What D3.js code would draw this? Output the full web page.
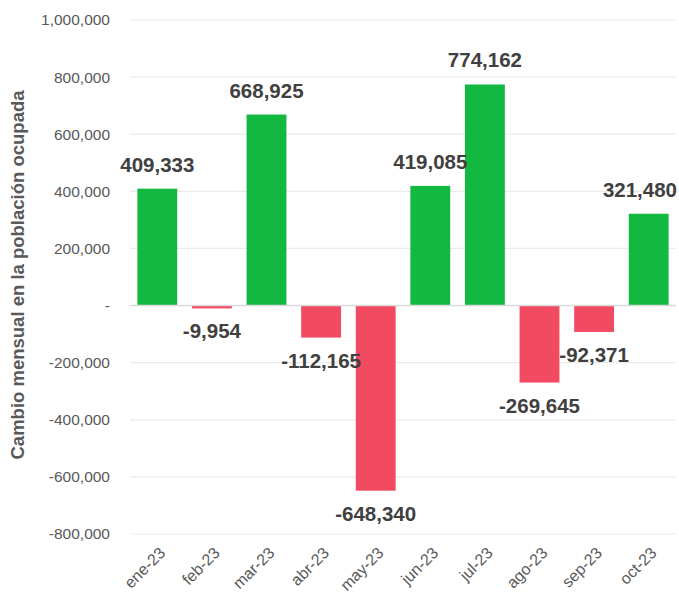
<!DOCTYPE html>
<html>
<head>
<meta charset="utf-8">
<script src="https://cdn.jsdelivr.net/npm/d3@7"></script>
<style>
  body { margin: 0; background: #fff; }
  svg { font-family: "Liberation Sans", Arial, sans-serif; }
</style>
</head>
<body>
<svg id="chart" width="679" height="598"></svg>
<script>
// data
const months = ["ene-23", "feb-23", "mar-23", "abr-23", "may-23",
                "jun-23", "jul-23", "ago-23", "sep-23", "oct-23"];
const changes = [409333, -9954, 668925, -112165, -648340,
                 419085, 774162, -269645, -92371, 321480];
const yTicks = [-800000, -600000, -400000, -200000, 0,
                200000, 400000, 600000, 800000, 1000000];

const svg = d3.select("#chart");
const margin = {top: 20, right: 3, bottom: 64, left: 130};
const width = 679 - margin.left - margin.right;
const height = 534 - margin.top;

const g = svg.append("g")
    .attr("transform", "translate(" + margin.left + "," + margin.top + ")");

const x = d3.scaleBand()
    .domain(months)
    .range([0, width])
    .paddingInner(0.27)
    .paddingOuter(0.135);

const y = d3.scaleLinear()
    .domain([-800000, 1000000])
    .range([height, 0]);

// plain hyphen for negatives, like the original
const fmt = function(d) { return d3.format(",")(d).replace("\u2212", "-"); };

// gridlines
g.selectAll("line.grid")
    .data(yTicks.filter(function(d) { return d !== 0; }))
    .enter()
    .append("line")
    .attr("class", "grid")
    .attr("x1", 0)
    .attr("x2", width)
    .attr("y1", function(d) { return y(d); })
    .attr("y2", function(d) { return y(d); })
    .attr("stroke", "#ebebeb")
    .attr("stroke-width", 1.2);

// y axis labels
const yAxis = g.append("g")
    .call(d3.axisLeft(y)
        .tickValues(yTicks)
        .tickSize(0)
        .tickPadding(20)
        .tickFormat(function(d) { return d === 0 ? "-" : fmt(d); }));
yAxis.select(".domain").remove();
yAxis.selectAll("text")
    .attr("fill", "#595959")
    .style("font-size", "15.5px");

// bars
g.selectAll("rect.bar")
    .data(changes)
    .enter()
    .append("rect")
    .attr("class", "bar")
    .attr("x", function(d, i) { return x(months[i]); })
    .attr("width", x.bandwidth())
    .attr("y", function(d) { return y(Math.max(0, d)); })
    .attr("height", function(d) { return Math.abs(y(d) - y(0)); })
    .attr("fill", function(d) { return d >= 0 ? "#12b840" : "#f24a61"; });

// zero line
g.append("line")
    .attr("x1", 0)
    .attr("x2", width)
    .attr("y1", y(0))
    .attr("y2", y(0))
    .attr("stroke", "#d9d9d9")
    .attr("stroke-width", 1.5);

// value labels, kept inside the right edge
g.selectAll("text.val")
    .data(changes)
    .enter()
    .append("text")
    .attr("class", "val")
    .attr("x", function(d, i) { return x(months[i]) + x.bandwidth() / 2; })
    .attr("y", function(d) { return d >= 0 ? y(d) - 17 : y(d) + 30; })
    .attr("text-anchor", "middle")
    .attr("fill", "#404040")
    .style("font-size", "20.5px")
    .style("font-weight", "bold")
    .text(function(d) { return fmt(d); })
    .each(function() {
        const t = d3.select(this);
        const half = this.getComputedTextLength() / 2;
        const cx = +t.attr("x");
        const maxX = width + margin.right - 2;
        if (cx + half > maxX) t.attr("x", maxX - half);
    });

// x axis labels
g.selectAll("text.month")
    .data(months)
    .enter()
    .append("text")
    .attr("class", "month")
    .attr("transform", function(d) {
        return "translate(" + (x(d) + x.bandwidth() / 2 + 5) + "," + (height + 16) + ") rotate(-45)";
    })
    .attr("text-anchor", "end")
    .attr("dy", "0.35em")
    .attr("fill", "#595959")
    .style("font-size", "16px")
    .text(function(d) { return d; });

// y axis title
svg.append("text")
    .attr("transform", "translate(24,275) rotate(-90)")
    .attr("text-anchor", "middle")
    .attr("fill", "#595959")
    .style("font-size", "18.5px")
    .style("font-weight", "bold")
    .text("Cambio mensual en la población ocupada");
</script>
</body>
</html>
